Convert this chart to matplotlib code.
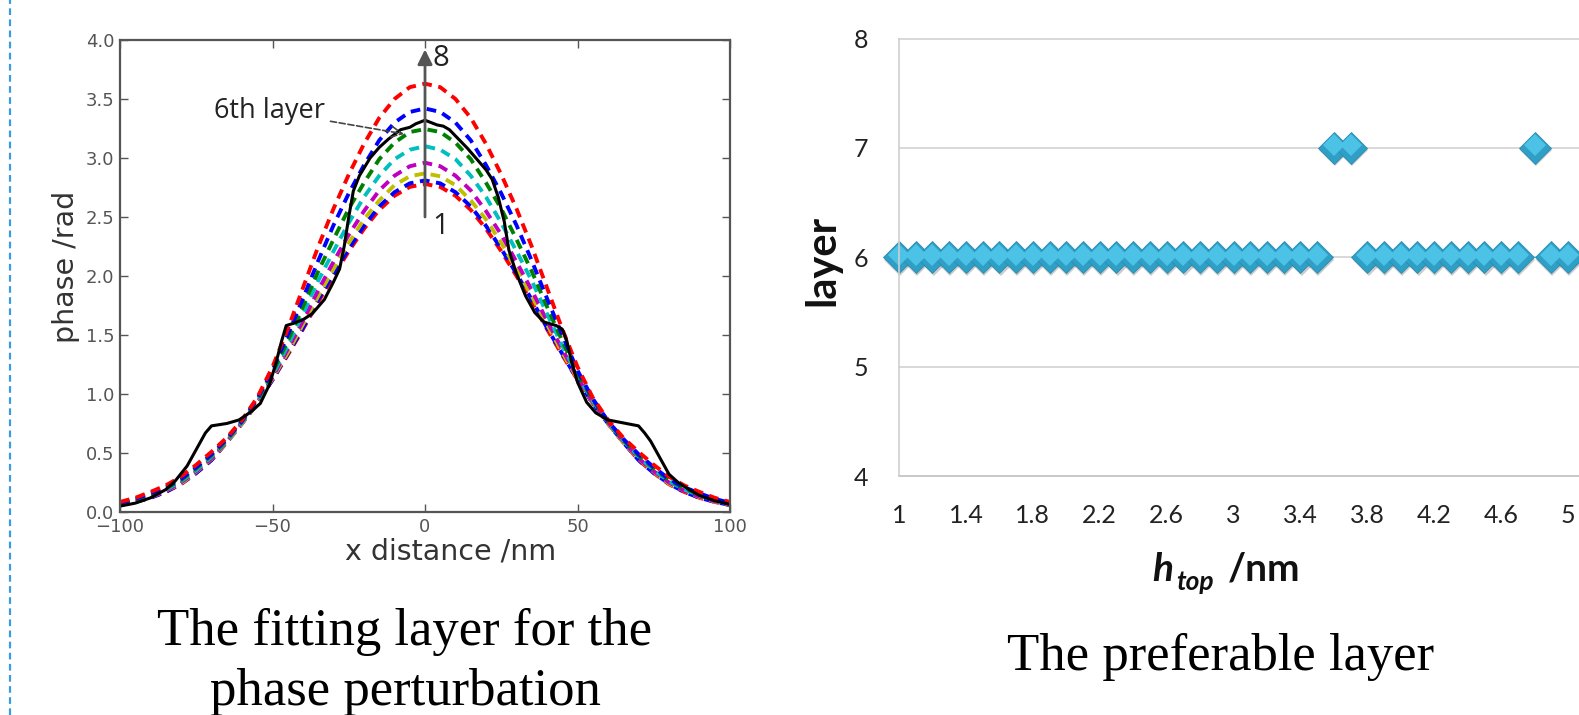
import numpy as np
import matplotlib.pyplot as plt
import matplotlib.transforms as mtransforms
from matplotlib.lines import Line2D

# ---------------- data ----------------
# left panel: fitted phase profiles for layers 1..8 (dashed)
X_DASH = [-100, -95, -90, -85, -80, -75, -70, -65, -60, -55, -50, -45, -40, -35, -30,
          -25, -20, -15, -10, -5, 0, 5, 10, 15, 20, 25, 30, 35, 40, 45, 50, 55, 60,
          65, 70, 75, 80, 85, 90, 95, 100]

LAYER1 = [0.058, 0.085, 0.12, 0.17, 0.235, 0.33, 0.44, 0.59, 0.75, 0.92, 1.12, 1.33, 1.55,
          1.78, 2.00, 2.21, 2.40, 2.56, 2.68, 2.755, 2.78, 2.755, 2.68, 2.56, 2.40, 2.21,
          2.00, 1.78, 1.55, 1.33, 1.12, 0.92, 0.75, 0.59, 0.44, 0.33, 0.235, 0.17, 0.12,
          0.085, 0.058]
LAYER2 = [0.059, 0.086, 0.12, 0.17, 0.24, 0.33, 0.44, 0.59, 0.75, 0.92, 1.12, 1.34, 1.56,
          1.80, 2.02, 2.23, 2.425, 2.59, 2.71, 2.785, 2.81, 2.785, 2.71, 2.59, 2.425, 2.23,
          2.02, 1.80, 1.56, 1.34, 1.12, 0.92, 0.75, 0.59, 0.44, 0.33, 0.24, 0.17, 0.12,
          0.086, 0.059]
LAYER3 = [0.061, 0.089, 0.125, 0.18, 0.24, 0.34, 0.45, 0.59, 0.75, 0.925, 1.13, 1.35, 1.59,
          1.83, 2.06, 2.28, 2.48, 2.64, 2.77, 2.845, 2.87, 2.845, 2.77, 2.64, 2.48, 2.28,
          2.06, 1.83, 1.59, 1.35, 1.13, 0.925, 0.75, 0.59, 0.45, 0.34, 0.24, 0.18, 0.125,
          0.089, 0.061]
LAYER4 = [0.064, 0.092, 0.13, 0.18, 0.25, 0.345, 0.455, 0.60, 0.76, 0.93, 1.14, 1.38, 1.62,
          1.88, 2.12, 2.35, 2.55, 2.725, 2.85, 2.93, 2.96, 2.93, 2.85, 2.725, 2.55, 2.35,
          2.12, 1.88, 1.62, 1.38, 1.14, 0.93, 0.76, 0.60, 0.455, 0.345, 0.25, 0.18, 0.13,
          0.092, 0.064]
LAYER5 = [0.068, 0.098, 0.14, 0.19, 0.26, 0.355, 0.47, 0.605, 0.76, 0.94, 1.16, 1.41, 1.68,
          1.96, 2.21, 2.45, 2.67, 2.85, 2.99, 3.07, 3.10, 3.07, 2.99, 2.85, 2.67, 2.45,
          2.21, 1.96, 1.68, 1.41, 1.16, 0.94, 0.76, 0.605, 0.47, 0.355, 0.26, 0.19, 0.14,
          0.098, 0.068]
LAYER6 = [0.073, 0.104, 0.147, 0.20, 0.27, 0.37, 0.48, 0.61, 0.77, 0.95, 1.18, 1.45, 1.74,
          2.04, 2.31, 2.57, 2.79, 2.99, 3.13, 3.22, 3.245, 3.22, 3.13, 2.99, 2.79, 2.57,
          2.31, 2.04, 1.74, 1.45, 1.18, 0.95, 0.77, 0.61, 0.48, 0.37, 0.27, 0.20, 0.147,
          0.104, 0.073]
LAYER7 = [0.078, 0.111, 0.158, 0.21, 0.28, 0.38, 0.49, 0.62, 0.77, 0.96, 1.20, 1.50, 1.81,
          2.13, 2.43, 2.70, 2.94, 3.15, 3.30, 3.39, 3.42, 3.39, 3.30, 3.15, 2.94, 2.70,
          2.43, 2.13, 1.81, 1.50, 1.20, 0.96, 0.77, 0.62, 0.49, 0.38, 0.28, 0.21, 0.158,
          0.111, 0.078]
LAYER8 = [0.085, 0.12, 0.17, 0.225, 0.30, 0.40, 0.51, 0.63, 0.78, 0.97, 1.23, 1.55, 1.90,
          2.25, 2.57, 2.86, 3.12, 3.34, 3.50, 3.60, 3.63, 3.60, 3.50, 3.34, 3.12, 2.86,
          2.57, 2.25, 1.90, 1.55, 1.23, 0.97, 0.78, 0.63, 0.51, 0.40, 0.30, 0.225, 0.17,
          0.12, 0.085]
DASH_COLORS = ['r', 'b', 'y', 'm', 'c', 'g', 'b', 'r']

# measured profile (solid black)
X_MEAS = [-100, -95, -90, -85, -82, -78, -75, -72, -70, -65, -61, -57, -54, -51, -49, -47,
          -45.5, -43, -40, -37, -33, -30, -28, -26.5, -25, -23.5, -21.5, -18, -15, -12, -8,
          -5, -3, 0, 2, 4, 6, 8, 11, 14, 17, 20, 22, 24, 26, 27.5, 30, 33, 36, 39, 43, 45,
          46.5, 48, 50, 53, 56, 60, 65, 70, 72, 74, 77, 80, 83, 86, 90, 95, 100]
Y_MEAS = [0.05, 0.075, 0.12, 0.19, 0.26, 0.39, 0.53, 0.67, 0.73, 0.75, 0.78, 0.85, 0.92,
          1.08, 1.25, 1.45, 1.58, 1.60, 1.63, 1.68, 1.80, 1.95, 2.06, 2.25, 2.50, 2.72,
          2.85, 3.00, 3.09, 3.16, 3.24, 3.26, 3.29, 3.32, 3.30, 3.28, 3.27, 3.24, 3.16,
          3.08, 2.99, 2.90, 2.82, 2.67, 2.46, 2.22, 2.02, 1.83, 1.69, 1.61, 1.58, 1.55,
          1.45, 1.28, 1.10, 0.93, 0.84, 0.78, 0.755, 0.73, 0.67, 0.60, 0.46, 0.32, 0.25,
          0.20, 0.14, 0.095, 0.065]

# right panel: preferable layer vs h_top
H_TOP = [1.0, 1.1, 1.2, 1.3, 1.4, 1.5, 1.6, 1.7, 1.8, 1.9, 2.0, 2.1, 2.2, 2.3, 2.4, 2.5,
         2.6, 2.7, 2.8, 2.9, 3.0, 3.1, 3.2, 3.3, 3.4, 3.5, 3.6, 3.7, 3.8, 3.9, 4.0, 4.1,
         4.2, 4.3, 4.4, 4.5, 4.6, 4.7, 4.8, 4.9, 5.0]
LAYER = [6, 6, 6, 6, 6, 6, 6, 6, 6, 6, 6, 6, 6, 6, 6, 6, 6, 6, 6, 6, 6, 6, 6, 6, 6, 6,
         7, 7, 6, 6, 6, 6, 6, 6, 6, 6, 6, 6, 7, 6, 6]
H_TICKS = [1, 1.4, 1.8, 2.2, 2.6, 3, 3.4, 3.8, 4.2, 4.6, 5]
LAYER_TICKS = [4, 5, 6, 7, 8]

# ---------------- figure ----------------
W, H = 1579, 715
fig = plt.figure(figsize=(W / 100, H / 100), dpi=100)


def fx(px):
    return px / W


def fy(py):
    return 1 - py / H


# left panel
ax1 = fig.add_axes([fx(120), fy(512), fx(730) - fx(120), fy(40) - fy(512)])
for ys, c in zip([LAYER1, LAYER2, LAYER3, LAYER4, LAYER5, LAYER6, LAYER7, LAYER8], DASH_COLORS):
    ax1.plot(X_DASH, ys, color=c, lw=2.8, dashes=(2.5, 1.7))
ax1.plot(X_MEAS, Y_MEAS, color='k', lw=2.2)
ax1.set_xlim(-100, 100)
ax1.set_ylim(0, 4)
ax1.set_xticks([-100, -50, 0, 50, 100])
ax1.set_yticks([0, 0.5, 1.0, 1.5, 2.0, 2.5, 3.0, 3.5, 4.0])
ax1.yaxis.set_major_formatter('{x:.1f}')
ax1.tick_params(direction='in', top=True, right=True, length=6, width=1,
                colors='#555555', labelsize=13, pad=4)
for s in ax1.spines.values():
    s.set_color('#555555')
    s.set_linewidth(1.6)

ax1.annotate('', xy=(0, 3.92), xytext=(0, 2.5),
             arrowprops=dict(arrowstyle='-|>', color='#555555', lw=2,
                             mutation_scale=22, shrinkA=0, shrinkB=0))
ax1.text(2.5, 3.84, '8', fontsize=21, family='Open Sans', color='#222222',
         ha='left', va='center')
ax1.text(2.5, 2.42, '1', fontsize=21, family='Open Sans', color='#222222',
         ha='left', va='center')
ax1.annotate('6th layer', xy=(-6, 3.2), xytext=(-51, 3.40), fontsize=19.5,
             family='Open Sans', color='#222222', ha='center', va='center',
             arrowprops=dict(arrowstyle='->', ls='--', color='#444444', lw=1.2))

fig.text(fx(66), fy(267), 'phase /rad', rotation=90, fontsize=20.5, color='#333333',
         ha='center', va='center')
fig.text(fx(451), fy(552), 'x distance /nm', fontsize=20.5, color='#333333',
         ha='center', va='center')

# right panel
ax2 = fig.add_axes([fx(899), fy(476), fx(1568) - fx(899), fy(38.5) - fy(476)])
ax2.set_xlim(1, 5)
ax2.set_ylim(4, 8)
ax2.set_xticks(H_TICKS)
ax2.set_xticklabels(['{:g}'.format(t) for t in H_TICKS])
ax2.set_yticks(LAYER_TICKS)
for v in LAYER_TICKS[1:]:
    ax2.axhline(v, xmin=0, xmax=1.016, color='#d6d6d6', lw=1.3, zorder=0, clip_on=False)
ax2.axhline(LAYER_TICKS[0], xmin=0, xmax=1.016, color='#c4c4c4', lw=1.3, zorder=0,
            clip_on=False)
for side in ['top', 'right', 'bottom']:
    ax2.spines[side].set_visible(False)
ax2.spines['left'].set_color('#cfcfcf')
ax2.spines['left'].set_linewidth(1.2)
ax2.tick_params(length=0, labelsize=18, colors='#222222')
ax2.tick_params(axis='x', pad=20)
ax2.tick_params(axis='y', pad=22)
for lab in ax2.get_xticklabels() + ax2.get_yticklabels():
    lab.set_family('Lato')

shadow = mtransforms.offset_copy(ax2.transData, fig=fig, x=1.2, y=-2.5, units='dots')
ax2.plot(H_TOP, LAYER, ls='none', marker='D', ms=16.5, color='#000000', alpha=0.2,
         mew=0, transform=shadow, clip_on=False)
ax2.plot(H_TOP, LAYER, ls='none', marker='D', ms=16.5, markerfacecolor='#2f9fc6',
         markeredgecolor='#2a8db2', mew=0.6, clip_on=False)
hl = mtransforms.offset_copy(ax2.transData, fig=fig, x=0, y=2.5, units='dots')
ax2.plot(H_TOP, LAYER, ls='none', marker='D', ms=11, markerfacecolor='#4cc3e6',
         mew=0, transform=hl, clip_on=False)

fig.text(fx(822), fy(260), 'layer', rotation=90, fontsize=30, family='Lato',
         weight='bold', color='#111111', ha='center', va='center')
fig.text(fx(1152), fy(581), 'h', fontsize=28, family='Lato', weight='bold',
         style='italic', color='#111111', ha='left', va='baseline')
fig.text(fx(1176), fy(590), 'top', fontsize=19, family='Lato', weight='bold',
         style='italic', color='#111111', ha='left', va='baseline')
fig.text(fx(1228), fy(581), '/nm', fontsize=28, family='Lato', weight='bold',
         color='#111111', ha='left', va='baseline')

# captions
fig.text(fx(405), fy(645), 'The fitting layer for the', fontsize=38,
         family='Liberation Serif', ha='center', va='baseline')
fig.text(fx(405), fy(705), 'phase perturbation', fontsize=38,
         family='Liberation Serif', ha='center', va='baseline')
fig.text(fx(1221), fy(670), 'The preferable layer', fontsize=38,
         family='Liberation Serif', ha='center', va='baseline')

# dashed frame edge on the far left
fig.add_artist(Line2D([fx(10), fx(10)], [0, 1], color='#3a9be0', lw=1.6,
                      dashes=(3, 2)))

fig.savefig('out.png', dpi=100)
